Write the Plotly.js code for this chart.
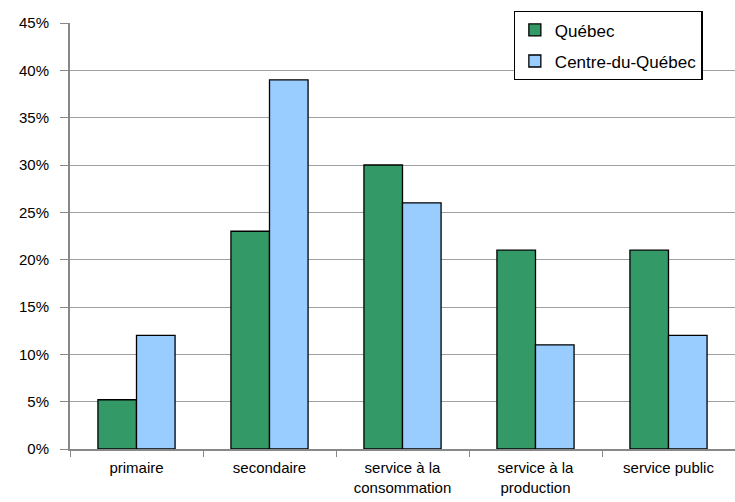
<!DOCTYPE html>
<html><head><meta charset="utf-8">
<script src="https://cdn.plot.ly/plotly-3.0.1.min.js"></script>
<style>body{margin:0;background:#fff}#c{width:735px;height:502px}</style>
</head><body><div id="c"></div>
<script>
var categories = ["primaire", "secondaire", "service à la<br>consommation", "service à la<br>production", "service public"];
var quebec = [5.2, 23, 30, 21, 21];
var centre = [12, 39, 26, 11, 12];
var yTicks = [0, 5, 10, 15, 20, 25, 30, 35, 40, 45];

var traces = [
  {type: "bar", name: "Québec", x: categories, y: quebec, legendgroup: "a",
   marker: {color: "#339966", line: {color: "#000", width: 1.3}}},
  {type: "bar", name: "Centre-du-Québec", x: categories, y: centre, legendgroup: "b",
   marker: {color: "#99CCFF", line: {color: "#000", width: 1.3}}}
];
var layout = {
  width: 735, height: 502,
  margin: {l: 70, r: 0, t: 23, b: 53},
  paper_bgcolor: "#fff", plot_bgcolor: "#fff",
  font: {family: "Liberation Sans, Arial, sans-serif", size: 15, color: "#000"},
  barmode: "group", bargap: 0.42, bargroupgap: 0,
  showlegend: true,
  legend: {x: 0.667, y: 1.028, xanchor: "left", yanchor: "top",
           bgcolor: "#fff", bordercolor: "#000", borderwidth: 1.3,
           font: {size: 17}, itemwidth: 30, tracegroupgap: 6},
  xaxis: {type: "category", showline: true, linecolor: "#888", linewidth: 2,
          ticks: "outside", tickson: "boundaries", ticklen: 6, tickcolor: "#888",
          ticklabelstandoff: 4,
          tickfont: {size: 15}, showgrid: false, fixedrange: true},
  yaxis: {range: [0, 45], tickvals: yTicks, ticktext: yTicks.map(function(v){return v + "%";}),
          showline: true, linecolor: "#888", linewidth: 2, mirror: false,
          ticks: "outside", ticklen: 8, tickcolor: "#888", ticklabelstandoff: 8,
          showgrid: true, gridcolor: "#a0a0a0", gridwidth: 1,
          tickfont: {size: 15}, zeroline: false, fixedrange: true}
};
Plotly.newPlot("c", traces, layout, {displayModeBar: false, staticPlot: true});
</script>
</body></html>
